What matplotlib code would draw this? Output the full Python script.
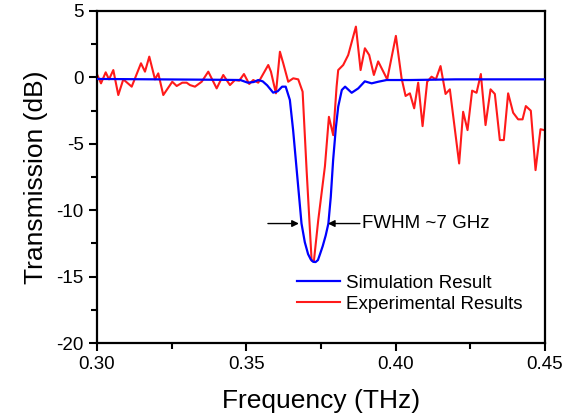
import matplotlib
matplotlib.use("Agg")
import matplotlib.pyplot as plt

plt.rcParams['font.family'] = ['Liberation Sans', 'DejaVu Sans']
plt.rcParams['axes.unicode_minus'] = False

sim_freq = [0.300, 0.320, 0.340, 0.348, 0.3505, 0.3525, 0.354, 0.3555, 0.357, 0.359,
            0.3605, 0.362, 0.3632, 0.3646, 0.3657, 0.3669, 0.3685, 0.3696, 0.3707,
            0.3716, 0.3724, 0.3732, 0.3740, 0.3747, 0.3756, 0.3766, 0.3775, 0.3783,
            0.3791, 0.3800, 0.3808, 0.382, 0.3831, 0.3853,
            0.3875, 0.3897, 0.392, 0.3942, 0.397, 0.405, 0.420, 0.450]
sim_db = [-0.12, -0.15, -0.18, -0.2, -0.4, -0.35, -0.2, -0.3, -0.6, -1.15,
          -1.05, -0.7, -0.7, -1.7, -4.0, -7.0, -11.0, -12.4, -13.3,
          -13.7, -13.88, -13.9, -13.75, -13.3, -12.7, -11.9, -11.0, -9.0,
          -6.2, -3.8, -2.2, -0.95, -0.7, -1.16,
          -0.83, -0.3, -0.45, -0.33, -0.2, -0.2, -0.15, -0.15]

exp_freq = [0.30000, 0.30134, 0.30291, 0.30402, 0.30546, 0.30713, 0.30881, 0.31162,
            0.31473, 0.31607, 0.31751, 0.31942, 0.32052, 0.32220, 0.32521, 0.32669,
            0.32856, 0.33003, 0.33114, 0.33281, 0.33506, 0.33727, 0.34008, 0.34229,
            0.34453, 0.34621, 0.34764, 0.34922, 0.35099, 0.35233, 0.35401, 0.35736,
            0.35826, 0.35993, 0.36127, 0.36238, 0.36405, 0.36573, 0.36740, 0.36887,
            0.37021, 0.37189, 0.37266, 0.37410, 0.37634, 0.37768, 0.37912, 0.38025,
            0.38079, 0.38247, 0.38414, 0.38672, 0.38829, 0.38973, 0.39117, 0.39274,
            0.39418, 0.39720, 0.40011, 0.40202, 0.40336, 0.40480, 0.40624, 0.40758,
            0.40905, 0.41059, 0.41206, 0.41350, 0.41507, 0.41675, 0.41819, 0.42130,
            0.42264, 0.42411, 0.42565, 0.42713, 0.42857, 0.43014, 0.43182, 0.43326,
            0.43493, 0.43627, 0.43771, 0.43939, 0.44106, 0.44254, 0.44364, 0.44531,
            0.44689, 0.44855, 0.44976]
exp_db = [0.23, -0.45, 0.38, -0.15, 0.55, -1.33, -0.15, -0.7,
          1.06, 0.43, 1.56, -0.15, 0.3, -1.33, -0.33, -0.65,
          -0.4, -0.4, -0.58, -0.7, -0.33, 0.43, -0.83, 0.18,
          -0.58, -0.2, -0.25, 0.25, -0.5, -0.2, -0.4, 0.93,
          0.43, -1.2, 1.93, 1.06, -0.33, -0.07, -0.15, -1.08,
          -7.0, -13.8, -13.8, -10.75, -6.7, -2.97, -4.35, -0.7,
          0.55, 0.93, 1.68, 3.82, 0.55, 2.19, 1.68, 0.18,
          1.2, -0.15, 3.12, -0.07, -1.4, -1.2, -2.33, -0.4,
          -3.67, -0.33, 0.05, -0.15, 0.85, -1.25, -0.9, -6.48,
          -2.59, -3.97, -1.0, -1.16, 0.25, -3.59, -0.9, -1.25,
          -4.72, -4.72, -1.2, -2.66, -3.16, -3.16, -2.16, -2.51,
          -6.98, -3.9, -3.97]

x_ticks = [0.30, 0.35, 0.40, 0.45]
x_labels = ["0.30", "0.35", "0.40", "0.45"]
y_ticks = [5, 0, -5, -10, -15, -20]

fig = plt.figure(figsize=(5.64, 4.2), dpi=100)
ax = fig.add_axes([0.172, 0.183, 0.794, 0.791])

ax.plot(sim_freq, sim_db, color='#0000ff', lw=1.6, label='Simulation Result', zorder=3)
ax.plot(exp_freq, exp_db, color='#ff1a1a', lw=1.5, label='Experimental Results', zorder=2)

ax.set_xlim(0.30, 0.45)
ax.set_ylim(-20, 5)
ax.set_xticks(x_ticks)
ax.set_xticklabels(x_labels)
ax.set_yticks(y_ticks)
ax.set_xticks([0.325, 0.375, 0.425], minor=True)
ax.set_yticks([2.5, -2.5, -7.5, -12.5, -17.5], minor=True)
ax.tick_params(which='both', direction='out', top=False, right=False, width=1.5, labelsize=13.5)
ax.tick_params(which='major', length=6)
ax.tick_params(which='minor', length=4)
for s in ax.spines.values():
    s.set_linewidth(1.6)

ax.set_xlabel('Frequency (THz)', fontsize=19, labelpad=11)
ax.set_ylabel('Transmission (dB)', fontsize=19, labelpad=6)

arrow = dict(arrowstyle='-|>', color='black', lw=1.0, mutation_scale=10, shrinkA=0, shrinkB=0)
ax.annotate('', xy=(0.36763, -11), xytext=(0.35725, -11), arrowprops=arrow)
ax.annotate('', xy=(0.37734, -11), xytext=(0.38806, -11), arrowprops=arrow)
ax.text(0.38873, -11, 'FWHM ~7 GHz', fontsize=13.5, va='center', ha='left')

ax.legend(loc='center left', bbox_to_anchor=(0.447, 0.149), frameon=False, fontsize=13.5,
          borderpad=0, borderaxespad=0, handlelength=2.3, handletextpad=0.3,
          labelspacing=0.2)

fig.savefig('out.png', dpi=100)
